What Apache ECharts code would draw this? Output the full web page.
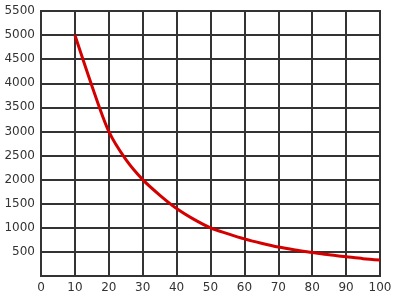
<!DOCTYPE html>
<html><head><meta charset="utf-8">
<script src="https://cdn.jsdelivr.net/npm/echarts@6/dist/echarts.min.js"></script>
<style>html,body{margin:0;padding:0;background:#fff}#c{width:400px;height:300px}</style>
</head><body><div id="c"></div>
<script>
var xValues = [10,15,20,25,30,35,40,45,50,55,60,65,70,75,80,85,90,95,100];
var yValues = [5000,3950,3000,2420,2000,1680,1400,1180,1000,880,770,680,600,540,490,440,400,360,330];
var chart = echarts.init(document.getElementById('c'));
var data = xValues.map(function(x,i){return [x,yValues[i]];});
chart.setOption({
  animation:false,
  grid:{left:41,top:11,right:20,bottom:24,show:true,borderColor:'#333',borderWidth:2,backgroundColor:'#fff'},
  xAxis:{type:'value',min:0,max:100,interval:10,
    axisLine:{show:true,lineStyle:{color:'#333',width:2}},
    axisTick:{show:false},
    splitLine:{show:true,lineStyle:{color:'#333',width:2}},
    axisLabel:{color:'#333',fontSize:12,fontFamily:'DejaVu Sans',margin:6}},
  yAxis:{type:'value',min:0,max:5500,interval:500,
    axisLine:{show:true,lineStyle:{color:'#333',width:2}},
    axisTick:{show:false},
    splitLine:{show:true,lineStyle:{color:'#333',width:2}},
    axisLabel:{color:'#333',fontSize:12,fontFamily:'DejaVu Sans',margin:6,
      formatter:function(v){return v===0?'':String(v);}}},
  series:[{type:'line',data:data,smooth:0.3,showSymbol:false,
    lineStyle:{color:'#d40000',width:3}}]
});
</script></body></html>
